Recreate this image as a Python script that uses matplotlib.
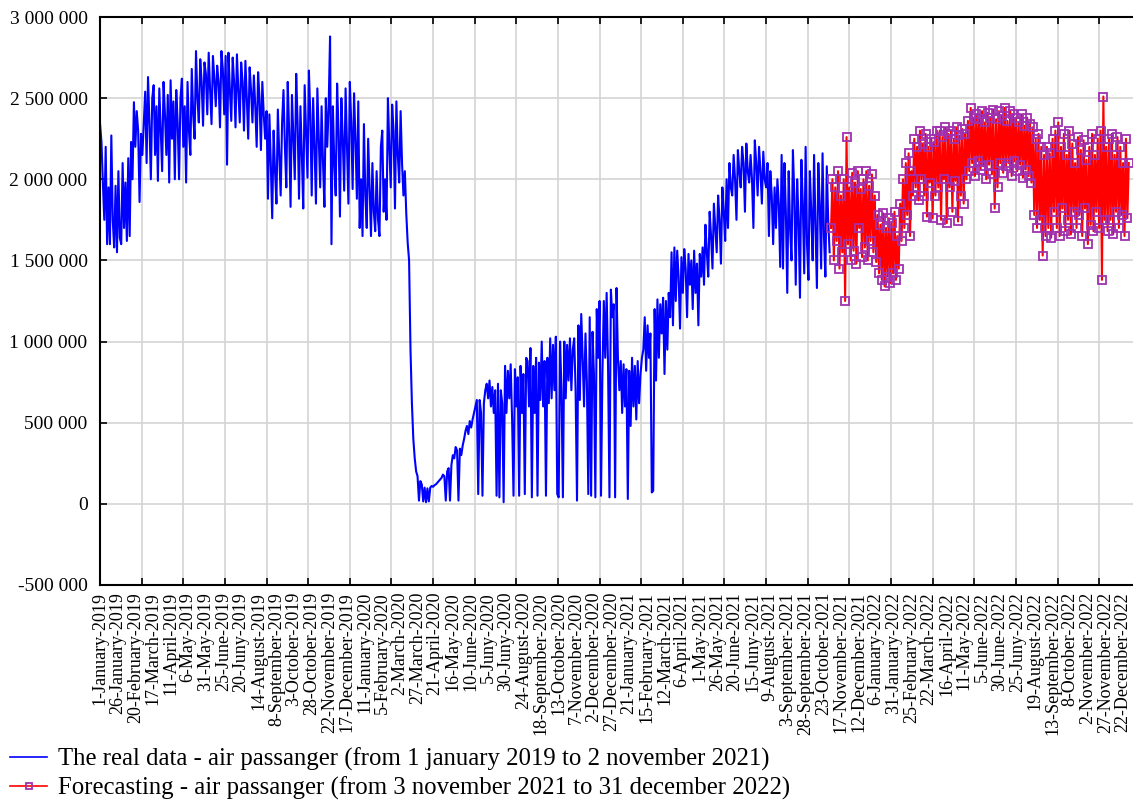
import numpy as np
import pandas as pd
import matplotlib
matplotlib.use('Agg')
import matplotlib.pyplot as plt

plt.rcParams['font.family'] = ['Liberation Serif', 'DejaVu Serif']

# air passengers (thousands), real data every 2nd day (1 jan 2019 - 2 nov 2021)
real_k = [
    # jan - feb 2019
    2340, 2230, 1980, 1750, 2200, 1600, 1950, 1600, 2270, 1750, 1580, 1960, 1550, 2050, 1640, 1600,
    2100, 1700, 1980, 1620, 2130, 1650, 2230, 2000,
    2475, 2200, 2420, 2300, 1860, 2280, 2150, 2350, 2540,
    # march - may 2019
    2100, 2630, 2350, 2000, 2500, 2580, 2150, 2450, 1990, 2560, 2300, 2050, 2600, 2400, 2150, 2520,
    1980, 2610, 2250, 2480, 2000, 2550, 2350, 2000, 2500, 2620, 2200, 2450, 1980, 2600, 2300, 2150,
    2680, 2400, 2250,
    # summer 2019
    2790, 2500, 2350, 2740, 2600, 2330, 2720, 2650, 2400, 2780, 2550, 2340, 2760, 2620, 2450, 2700,
    2600, 2320, 2790, 2680, 2400, 2760, 2090, 2780, 2550, 2360, 2750, 2600,
    2320, 2770, 2550, 2350, 2720, 2600, 2300, 2730, 2500, 2250, 2690, 2550, 2350, 2640, 2450, 2200,
    2660, 2500, 2180, 2600, 2400, 2250, 2420,
    # autumn 2019
    1880, 2400, 2100, 1760, 2300, 2050, 1850, 2430, 2150, 1900, 2350,
    2550, 2200, 1950, 2600, 2300, 1830, 2520, 2250, 2000, 2650, 2350, 1880, 2450, 2150, 1820, 2580,
    2300, 2010, 2670, 2400, 1900, 2500, 2200, 1850, 2560, 2250, 1950, 2450, 2100, 1830, 2500,
    2200, 2450, 2880, 1600, 2450, 2100, 1900,
    2590, 2300, 1770, 2500, 2250, 1930, 2560, 2200, 1850, 2600, 2350, 1940, 2530, 2250, 1880, 2480,
    # jan - march 2020
    1700, 2000, 1650, 2340, 1900, 1700, 2250, 1950, 1650, 2100, 1800, 1680, 2050, 1750, 1650, 2200,
    2300, 1800, 2000, 1750,
    2500, 2200, 1950, 2460, 2300, 1820, 2480, 2150, 1980, 2420, 2100, 1900,
    2050, 1790, 1610, 1500, 950, 620, 400, 280, 200, 170,
    # april - june 2020
    20, 140, 120, 15, 100, 10, 95, 15, 100, 110, 105, 115, 120, 130,
    140, 150, 160, 180, 170, 20, 200, 220, 20,
    240, 300, 280, 350, 330, 20, 340, 300, 360,
    400, 450, 480, 430, 510, 470, 520, 560,
    600, 640, 60, 640, 560, 50, 620, 700,
    # july - december 2020
    740, 650, 760, 600, 720, 560, 700, 50, 740, 40, 700, 620, 10,
    850, 560, 820, 650, 860, 520, 50, 830, 600, 780, 50, 850, 560, 800, 60, 900,
    880, 600, 960, 40, 850, 560, 900, 50, 870, 640, 1000, 600, 880, 50, 900, 620, 1020, 650, 980,
    700, 1030, 60,
    40, 1000, 700, 40, 1000, 650, 980, 760, 1020, 700, 950,
    1020, 700, 20, 1100, 640, 1170, 900, 600, 1050, 750, 60, 1150, 50, 1060, 800,
    # jan - april 2021
    40, 1200, 900, 1250, 50, 800, 1250, 900, 1300, 850, 40, 1320, 1150, 1230, 40, 1330,
    900, 700, 880, 560, 860, 600, 830, 30, 820, 480, 900, 600, 850, 520, 880, 620, 800, 900,
    950, 1150, 820, 1100, 900, 1050, 70, 80,
    1200, 760, 1260, 900, 1230, 1050, 1270, 800, 1250, 950, 1300, 1150,
    # april - june 2021
    1550, 1100, 1580, 1250, 1560, 1400, 1080, 1520, 1300, 1570, 1450, 1150, 1540, 1350, 1500, 1200,
    1560, 1300, 1480, 1100, 1540, 1400, 1580,
    1350, 1720, 1550, 1400, 1800, 1650, 1450, 1850, 1700, 1550, 1900, 1750, 1480, 1950, 1800, 1620,
    2000,
    # july - november 2021
    1700, 2100, 1950, 1900, 2150, 2000, 1750, 2180, 2050, 1950, 2200, 2100, 1800, 2220, 2050, 1980,
    2150, 2000, 1700, 2240, 2100, 1900, 2200, 2050, 1850, 2170, 2000, 1950,
    2100, 1650, 2050, 1900, 1600, 1950, 1700, 2000, 1850, 1460, 2150,
    1450, 2100, 1800, 1300, 2050, 1700, 1500, 2180, 1900, 1350, 2000, 1750, 1270, 2120, 1850, 1420,
    2200, 1600, 1380, 2050, 1800, 1500, 2150, 1700, 1330, 2100, 1850, 1450, 2160, 1650, 1400, 2080,
    1750, 1550,
]

# forecast (thousands), every 2nd day from 3 november 2021 to 31 december 2022
fcst_k = [
    1700, 2000, 1500, 1950, 1620, 2050, 1450, 1900, 1550, 2000, 1250,
    2260, 1600, 1950, 1500, 2040, 1560, 1980, 1480, 2050, 1700, 1940, 1520, 2000, 1580, 2050, 1500,
    1960, 1620, 2030, 1550, 1900, 1490,
    1780, 1420, 1720, 1380, 1790, 1340, 1700, 1400, 1760, 1360, 1730, 1420, 1800, 1380, 1650, 1450,
    1850, 1620, 2000, 1700, 2100, 1780, 2160, 1650, 2050,
    1900, 2250, 1950, 2200, 1870, 2300, 2000, 2220, 1900, 2280, 1770, 2200, 1980, 2250, 1760, 2230,
    1900, 2300, 1950,
    2300, 1750, 2260, 2000, 2320, 1730, 2280, 1950, 2300, 1800, 2250, 1990, 2320, 1740, 2270, 1900,
    2310, 1850, 2280, 2000,
    2360, 2050, 2440, 2100, 2380, 2020, 2400, 2110, 2370, 2060, 2420, 2080, 2350, 2000, 2410, 2090,
    2380, 2030, 2430, 1820, 2370, 1950, 2420, 2100, 2390, 2040, 2440, 2080, 2360, 2100, 2420, 2020,
    2400, 2110, 2380, 2050, 2350, 2090, 2400, 2010, 2330, 2060, 2380, 2020, 2340, 1980,
    2320, 1780, 2250, 1700, 2280, 1750, 2200, 1530, 2150, 1650, 2200, 1700, 2160, 1640, 2250,
    1800, 2300, 1700, 2350, 1650, 2200, 1820, 2280, 1680, 2150, 1750, 2300, 1660, 2220, 1800, 2100,
    1700, 2260, 1780, 2180, 1650, 2240, 1820, 2120, 1600, 2200, 1720, 2280, 1680, 2150, 1800, 2250,
    1700, 2300, 1380, 2510, 1750, 2200,
    1680, 2250, 1750, 2280, 1660, 2150, 1800, 2260, 1700, 2200, 1780, 2100, 1650, 2250, 1760, 2100,
]

months = ['January', 'February', 'March', 'April', 'May', 'June', 'Juny',
          'August', 'September', 'October', 'November', 'December']

# the series has no 29 february, so the axis counts days in 365-day years
days = pd.date_range('2019-01-01', '2022-12-31')
days = days[~((days.month == 2) & (days.day == 29))]
real_x = np.arange(len(real_k)) * 2
fcst_x = days.get_loc(pd.Timestamp('2021-11-03')) + np.arange(len(fcst_k)) * 2
label_pos = np.arange(0, len(days), 25)
labels = ['%d-%s-%d' % (days[p].day, months[days[p].month - 1], days[p].year) for p in label_pos]
grid_pos = np.arange(0, len(days), 59)

fig = plt.figure(figsize=(11.33, 8.02), dpi=100)
ax = fig.add_axes([0.0883, 0.2706, 0.9117, 0.7082])

ax.plot(real_x, np.array(real_k) * 1000, color='#0000ff', lw=1.5,
        label='The real data - air passanger (from 1 january 2019 to 2 november 2021)')
ax.plot(fcst_x, np.array(fcst_k) * 1000, color='#ff0000', lw=1.5,
        marker='s', ms=5.5, mfc='none', mec='#a030b0', mew=1.3,
        label='Forecasting - air passanger (from 3 november 2021 to 31 december 2022)')

ax.set_xlim(0, 1464)
ax.set_ylim(-500000, 3000000)
yt = np.arange(-500000, 3000001, 500000)
ax.set_yticks(yt)
ax.set_yticklabels(['{:,}'.format(v).replace(',', ' ') for v in yt])

ax.set_xticks(label_pos)
ax.set_xticklabels(labels, rotation=90)
ax.set_xticks(grid_pos, minor=True)

ax.tick_params(axis='x', which='major', length=0, pad=5, labelsize=13)
ax.tick_params(axis='x', which='minor', direction='in', length=5, width=1.2, top=True, bottom=True)
ax.tick_params(axis='y', direction='in', length=5, width=1.2, pad=9, labelsize=14)

ax.grid(which='minor', axis='x', color='#d4d4d4', lw=1.2)
ax.grid(which='major', axis='y', color='#d4d4d4', lw=1.2)
ax.set_axisbelow(True)
for s in ax.spines.values():
    s.set_linewidth(1.5)
ax.spines['right'].set_visible(False)

leg = fig.legend(loc='lower left', bbox_to_anchor=(0.009, 0.003), frameon=False,
                 fontsize=17.8, handlelength=1.5, handletextpad=0.45, labelspacing=0.22,
                 borderaxespad=0, borderpad=0)
for h in leg.legend_handles:
    h.set_linewidth(1.2)
    h.set_markersize(4.5)

fig.savefig('out.png', dpi=100)
